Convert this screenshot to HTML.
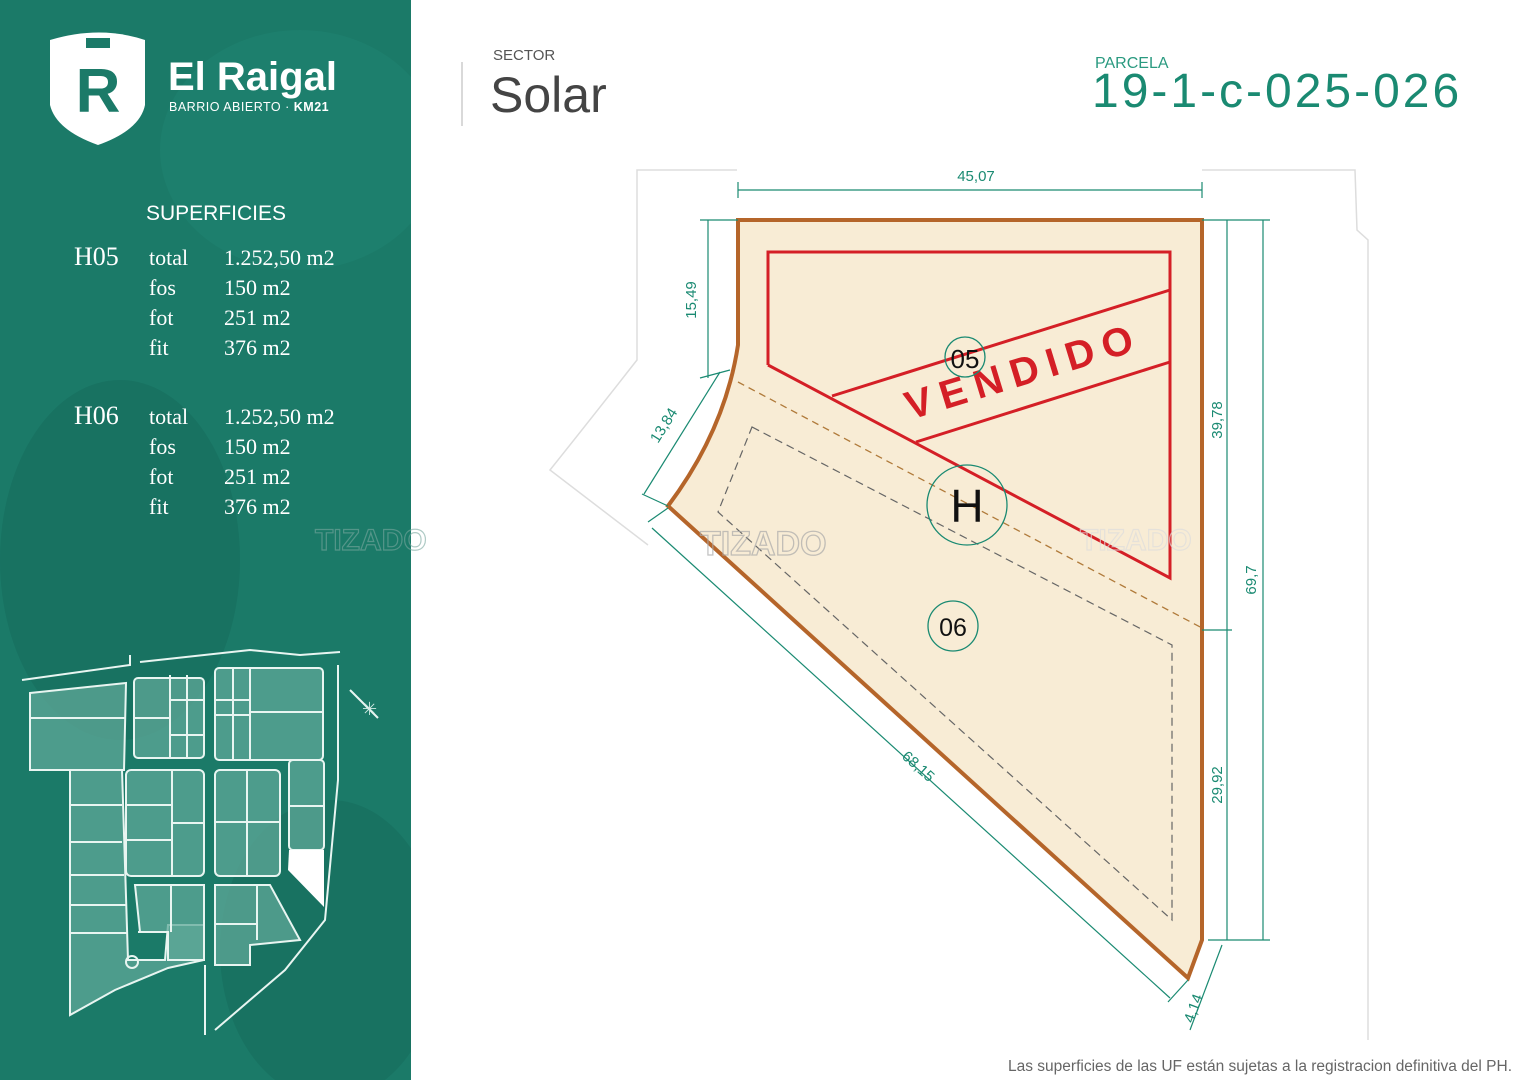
<!DOCTYPE html>
<html><head><meta charset="utf-8"><style>
html,body{margin:0;padding:0;background:#fff;}
svg{display:block;font-family:"Liberation Sans",sans-serif;}
</style></head><body>
<svg width="1527" height="1080" viewBox="0 0 1527 1080" xmlns="http://www.w3.org/2000/svg">
<defs><clipPath id="sb"><rect x="0" y="0" width="411" height="1080"/></clipPath></defs>
<rect width="1527" height="1080" fill="#fff"/>
<!-- sidebar -->
<g clip-path="url(#sb)">
<rect x="0" y="0" width="411" height="1080" fill="#1b7a68"/>
<ellipse cx="120" cy="560" rx="120" ry="180" fill="#186d5d" opacity="0.6"/>
<ellipse cx="330" cy="950" rx="110" ry="150" fill="#186d5d" opacity="0.6"/>
<ellipse cx="300" cy="150" rx="140" ry="120" fill="#1f8372" opacity="0.5"/>
</g>
<!-- logo shield -->
<path d="M50,40 Q100,25 145,40 L145,105 Q140,130 98,145 Q56,130 50,105 Z" fill="#fff"/>
<text x="98" y="112" font-size="62" font-weight="bold" fill="#1b7a68" text-anchor="middle">R</text>
<rect x="86" y="38" width="24" height="10" fill="#1b7a68"/>
<text x="168" y="90" font-size="40" font-weight="bold" fill="#fff">El Raigal</text>
<text x="169" y="111" font-size="12.5" fill="#fff" letter-spacing="0.5">BARRIO ABIERTO · <tspan font-weight="bold">KM21</tspan></text>
<!-- superficies -->
<g fill="#fff" font-family="Liberation Serif, serif">
<text x="146" y="220" font-size="21" font-family="Liberation Sans, sans-serif">SUPERFICIES</text>
<text x="74" y="265" font-size="26">H05</text>
<text x="149" y="265" font-size="22">total</text><text x="224" y="265" font-size="22">1.252,50 m2</text>
<text x="149" y="295" font-size="22">fos</text><text x="224" y="295" font-size="22">150 m2</text>
<text x="149" y="325" font-size="22">fot</text><text x="224" y="325" font-size="22">251 m2</text>
<text x="149" y="355" font-size="22">fit</text><text x="224" y="355" font-size="22">376  m2</text>
<text x="74" y="424" font-size="26">H06</text>
<text x="149" y="424" font-size="22">total</text><text x="224" y="424" font-size="22">1.252,50 m2</text>
<text x="149" y="454" font-size="22">fos</text><text x="224" y="454" font-size="22">150 m2</text>
<text x="149" y="484" font-size="22">fot</text><text x="224" y="484" font-size="22">251 m2</text>
<text x="149" y="514" font-size="22">fit</text><text x="224" y="514" font-size="22">376  m2</text>
</g>
<text x="315" y="550" font-size="30" font-weight="bold" fill="none" stroke="#7aa89f" stroke-width="1.2" opacity="0.6">TIZADO</text>
<!-- minimap -->
<g fill="#5fa898" fill-opacity="0.75" stroke="#e8f5f1" stroke-width="2">
<polygon points="30,693 126,683 124,770 30,770"/>
<line x1="30" y1="718" x2="125" y2="718"/>
<polygon points="70,770 122,770 128,960 165,960 168,925 204,925 204,960 168,968 115,990 70,1015"/>
<line x1="70" y1="805" x2="122" y2="805"/><line x1="70" y1="842" x2="122" y2="842"/><line x1="70" y1="875" x2="124" y2="875"/><line x1="70" y1="905" x2="126" y2="905"/><line x1="70" y1="933" x2="127" y2="933"/>
<rect x="134" y="678" width="70" height="80" rx="4"/>
<line x1="170" y1="675" x2="170" y2="758"/><line x1="187" y1="675" x2="187" y2="758"/><line x1="134" y1="718" x2="170" y2="718"/><line x1="170" y1="700" x2="204" y2="700"/><line x1="170" y1="735" x2="204" y2="735"/>
<rect x="215" y="668" width="108" height="92" rx="4"/>
<line x1="233" y1="668" x2="233" y2="760"/><line x1="250" y1="668" x2="250" y2="760"/><line x1="215" y1="700" x2="250" y2="700"/><line x1="215" y1="715" x2="250" y2="715"/><line x1="250" y1="712" x2="323" y2="712"/>
<rect x="126" y="770" width="78" height="106" rx="5"/>
<line x1="172" y1="770" x2="172" y2="876"/><line x1="126" y1="805" x2="172" y2="805"/><line x1="126" y1="840" x2="172" y2="840"/><line x1="172" y1="823" x2="204" y2="823"/>
<rect x="215" y="770" width="65" height="106" rx="5"/>
<line x1="247" y1="770" x2="247" y2="876"/><line x1="215" y1="822" x2="280" y2="822"/>
<rect x="289" y="760" width="35" height="90" rx="4"/>
<line x1="289" y1="806" x2="324" y2="806"/>
<polygon points="135,885 204,885 204,960 168,960 168,932 140,932" />
<line x1="171" y1="885" x2="171" y2="932"/><line x1="138" y1="932" x2="168" y2="932"/>
<polygon points="215,885 270,885 300,940 250,945 250,965 215,965"/>
<line x1="215" y1="924" x2="257" y2="924"/><line x1="257" y1="885" x2="257" y2="940"/>
</g>
<polygon points="289,850 324,850 324,907 288,870" fill="#fff"/>
<g fill="none" stroke="#e8f5f1" stroke-width="2">
<polyline points="22,680 130,665 130,655"/><polyline points="140,662 250,650 300,655 340,652"/>
<polyline points="338,665 338,780 325,920 285,970 215,1030"/>
<line x1="205" y1="965" x2="205" y2="1035"/>
<circle cx="132" cy="962" r="6"/>
<line x1="350" y1="690" x2="378" y2="718"/>
</g>
<text x="362" y="715" font-size="18" fill="#cfe9e2">✳</text>
<!-- right header -->
<line x1="462" y1="62" x2="462" y2="126" stroke="#ccc" stroke-width="1.5"/>
<text x="493" y="60" font-size="15" fill="#555">SECTOR</text>
<text x="490" y="112" font-size="50" fill="#444">Solar</text>
<text x="1095" y="68" font-size="16" fill="#2a9a80">PARCELA</text>
<text x="1092" y="107" font-size="48" fill="#1a8a72" letter-spacing="3">19-1-c-025-026</text>
<!-- grey streets -->
<g fill="none" stroke="#ddd" stroke-width="1.5">
<path d="M737,170 L637,170 L637,360 Q590,420 550,470 L648,545"/>
<path d="M1202,170 L1355,170 L1357,230 L1368,240 L1368,1040"/>
</g>
<!-- plot -->
<path d="M738,220 L1202,220 L1202,940 L1188,978 L668,506 Q725,430 738,345 Z" fill="#f8ecd5" stroke="#b5652a" stroke-width="4"/>
<line x1="738" y1="382" x2="1202" y2="628" stroke="#b07a3a" stroke-width="1.3" stroke-dasharray="7,5"/>
<polygon points="752,427 1172,645 1172,920 718,512" fill="none" stroke="#666" stroke-width="1.2" stroke-dasharray="8,5"/>
<g fill="none" stroke="#d41f26" stroke-width="3">
<polyline points="768,365 768,252 1170,252 1170,578 768,365"/>
<line x1="832" y1="396" x2="1170" y2="290"/>
<line x1="916" y1="442" x2="1170" y2="362"/>
</g>
<text x="0" y="0" font-size="40" font-weight="bold" fill="#d41f26" letter-spacing="9" transform="translate(910,420) rotate(-17)">VENDIDO</text>
<g fill="none" stroke="#1a8a72" stroke-width="1.3">
<circle cx="965" cy="357" r="20"/><circle cx="967" cy="505" r="40"/><circle cx="953" cy="626" r="25"/>
</g>
<text x="965" y="368" font-size="26" text-anchor="middle" fill="#111">05</text>
<text x="967" y="522" font-size="46" text-anchor="middle" fill="#111">H</text>
<text x="953" y="636" font-size="25" text-anchor="middle" fill="#111">06</text>
<text x="700" y="555" font-size="34" font-weight="bold" fill="none" stroke="#aaa" stroke-width="1.3" opacity="0.7">TIZADO</text>
<text x="1080" y="550" font-size="30" font-weight="bold" fill="none" stroke="#ddd" stroke-width="1.2" opacity="0.7">TIZADO</text>
<!-- dimensions -->
<g stroke="#1a8a72" stroke-width="1.2" fill="none">
<line x1="738" y1="190" x2="1202" y2="190"/>
<line x1="738" y1="182" x2="738" y2="198"/><line x1="1202" y1="182" x2="1202" y2="198"/>
<line x1="708" y1="220" x2="708" y2="378"/><line x1="700" y1="220" x2="738" y2="220"/><line x1="700" y1="378" x2="730" y2="370"/>
<line x1="720" y1="372" x2="644" y2="494"/><line x1="642" y1="494" x2="668" y2="506"/>
<line x1="652" y1="528" x2="1170" y2="998"/><line x1="648" y1="522" x2="668" y2="508"/><line x1="1168" y1="1002" x2="1188" y2="980"/>
<line x1="1227" y1="220" x2="1227" y2="940"/><line x1="1263" y1="220" x2="1263" y2="940"/>
<line x1="1202" y1="220" x2="1270" y2="220"/><line x1="1202" y1="630" x2="1232" y2="630"/><line x1="1208" y1="940" x2="1270" y2="940"/>
<line x1="1222" y1="945" x2="1190" y2="1030"/>
</g>
<g fill="#1a8a72" font-size="15">
<text x="976" y="181" text-anchor="middle">45,07</text>
<text transform="translate(696,300) rotate(-90)" text-anchor="middle">15,49</text>
<text transform="translate(668,428) rotate(-58)" text-anchor="middle">13,84</text>
<text transform="translate(915,770) rotate(42)" text-anchor="middle">68,15</text>
<text transform="translate(1222,420) rotate(-90)" text-anchor="middle">39,78</text>
<text transform="translate(1256,580) rotate(-90)" text-anchor="middle">69,7</text>
<text transform="translate(1222,785) rotate(-90)" text-anchor="middle">29,92</text>
<text transform="translate(1198,1010) rotate(-70)" text-anchor="middle">4,14</text>
</g>
<text x="1512" y="1071" font-size="15.5" fill="#666" text-anchor="end">Las superficies de las UF están sujetas a la registracion definitiva del PH.</text>
</svg>
</body></html>
